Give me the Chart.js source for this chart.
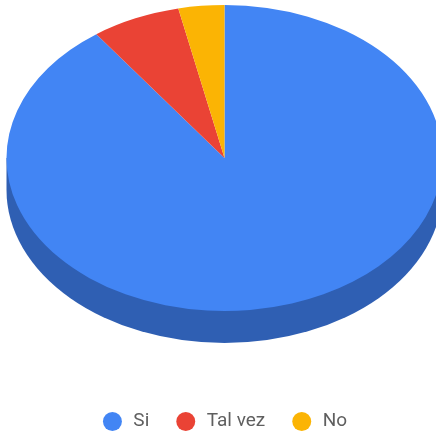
<!DOCTYPE html>
<html>
<head>
<meta charset="utf-8">
<title>Pie</title>
<script src="https://cdn.jsdelivr.net/npm/chart.js@4/dist/chart.umd.min.js"></script>
<style>
  html, body { margin: 0; padding: 0; background: #fff; overflow: hidden; width: 436px; height: 436px; }
  canvas { display: block; }
</style>
</head>
<body>
<canvas id="pie" width="450" height="441"></canvas>
<script>
var categories = ['Si', 'Tal vez', 'No'];
var shares = [90, 6.6, 3.4];
var sliceColors = ['#4285f4', '#ea4335', '#fbb404'];
var wallColor = '#2f5fb3';

// tilted look: the pie is squashed into an ellipse sitting on a darker wall
var tilt = {
    cx: 224.5,
    cy: 158,
    rx: 218,
    ry: 153,
    depth: 32
};

var tiltPlugin = {
    id: 'tilt',
    beforeDatasetsDraw: function (chart) {
        var ctx = chart.ctx;
        var arc = chart.getDatasetMeta(0).data[0];

        ctx.save();
        ctx.fillStyle = wallColor;
        ctx.beginPath();
        ctx.ellipse(tilt.cx, tilt.cy + tilt.depth, tilt.rx, tilt.ry, 0, 0, Math.PI);
        ctx.lineTo(tilt.cx - tilt.rx, tilt.cy);
        ctx.lineTo(tilt.cx + tilt.rx, tilt.cy);
        ctx.closePath();
        ctx.fill();

        ctx.translate(tilt.cx, tilt.cy);
        ctx.scale(tilt.rx / arc.outerRadius, tilt.ry / arc.outerRadius);
        ctx.translate(-arc.x, -arc.y);
    },
    afterDatasetsDraw: function (chart) {
        chart.ctx.restore();
    }
};

new Chart(document.getElementById('pie'), {
    type: 'pie',
    data: {
        labels: categories,
        datasets: [{
            data: shares,
            backgroundColor: sliceColors,
            borderWidth: 0
        }]
    },
    options: {
        responsive: false,
        animation: false,
        plugins: {
            tooltip: { enabled: false },
            legend: {
                position: 'bottom',
                labels: {
                    usePointStyle: true,
                    boxHeight: 13.4,
                    padding: 27,
                    color: '#5f5f5f',
                    font: { family: 'Roboto', size: 19 },
                    // small extra gap between the dot and its label
                    generateLabels: function (chart) {
                        var items = Chart.overrides.pie.plugins.legend.labels.generateLabels(chart);
                        items.forEach(function (item) { item.text = '\u200a' + item.text; });
                        return items;
                    }
                }
            }
        }
    },
    plugins: [tiltPlugin]
});
</script>
</body>
</html>
